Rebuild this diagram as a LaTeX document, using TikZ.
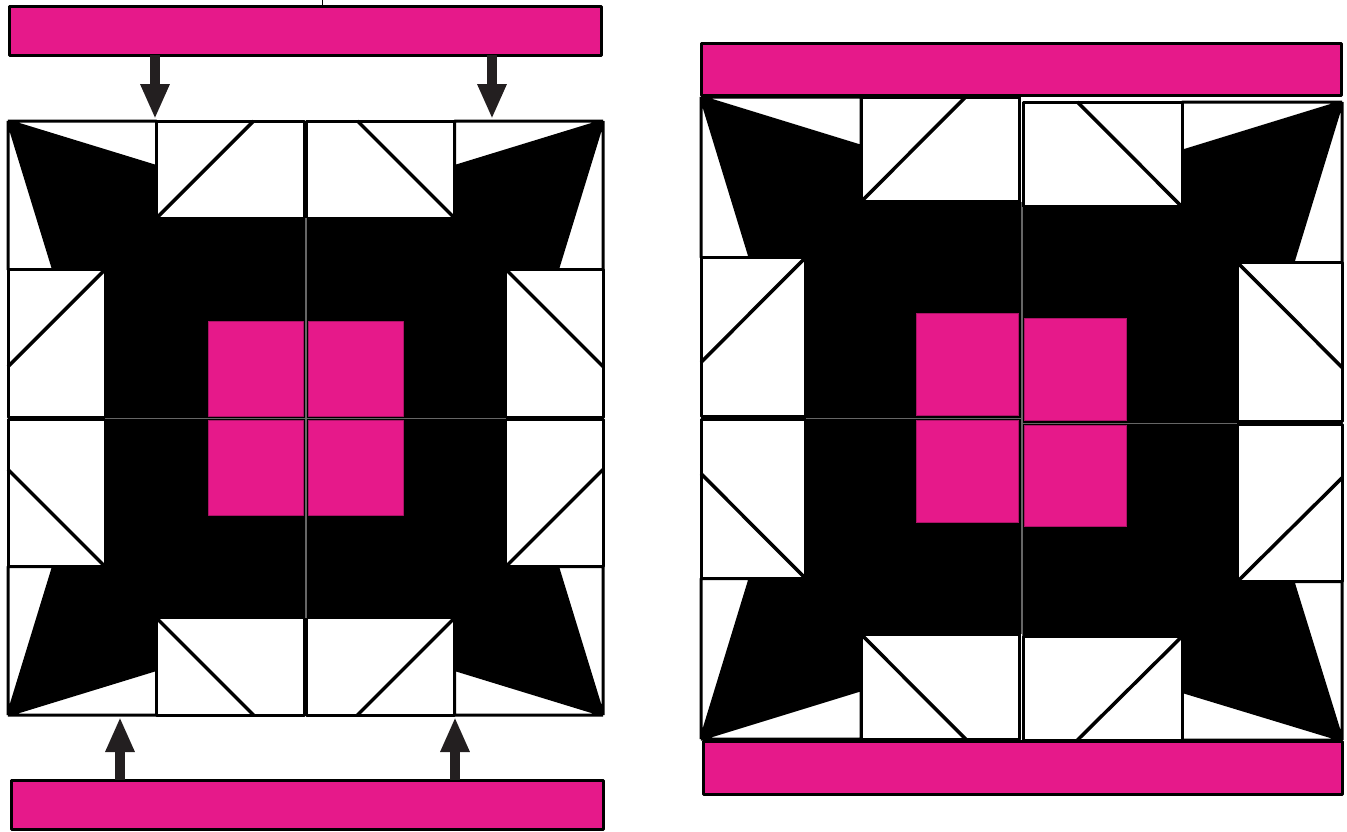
\documentclass[tikz,border=0pt]{standalone}
\usepackage{xcolor}
\usepackage{tikz}
\usetikzlibrary{arrows.meta}

\definecolor{quiltpink}{HTML}{E6198A}
\definecolor{arrowgray}{HTML}{231F20}

\begin{document}
\begin{tikzpicture}[
    x = 1pt, y = -1pt, % pixel grid, y pointing down
    > = {Triangle[length=35pt, width=27pt]}, % arrow head style
    line join = bevel, % no spikes on the thin triangles
    semithick % line style
]
\tikzstyle{strip}=[
    draw = black,
    line width = 3pt,
    fill = quiltpink,
    inner sep = 0pt,
    outer sep = 0pt
]
\tikzstyle{patch}=[draw = black, line width = 3pt, fill = white]
\tikzstyle{seam}=[draw = black!60, line width = 0.8pt]
\tikzstyle{centre}=[draw = quiltpink!75!black, line width = 0.8pt, fill = quiltpink]
\tikzstyle{pull}=[->, draw = arrowgray, fill = arrowgray, line width = 10pt]

\useasboundingbox (0,0) rectangle (1347,831);

% quarter blocks: outer corner x / y, signed width / height
\foreach \cx/\cy/\w/\h in {8/121/297/297, 603/121/-297/297, 8/715/297/-297, 603/715/-297/-297,
                           701/97/320/321, 1342/102/-320/321, 701/739/320/-321, 1342/740/-320/-317} {
  \begin{scope}[shift={(\cx,\cy)}, xscale=\w/300, yscale=\h/300]
    \fill[black] (0,0) rectangle (300,300);
    % star point in the corner
    \draw[patch] (0,0) -- (150,0) -- (150,46) -- cycle;
    \draw[patch] (0,0) -- (0,150) -- (46,150) -- cycle;
    % the two side units
    \draw[patch] (150,0) rectangle (299,98);
    \draw[line width = 3.5pt] (150,98) -- (248,0);
    \draw[patch] (0,150) rectangle (98,299);
    \draw[line width = 3.5pt] (98,150) -- (0,248);
    % centre square
    \draw[centre] (202,202) rectangle (298,298);
  \end{scope}
}
% seams between the quarters
\foreach \cx/\cy/\w/\h in {8/121/297/297, 603/121/-297/297, 8/715/297/-297, 603/715/-297/-297,
                           701/97/320/321, 1342/102/-320/321, 701/739/320/-321, 1342/740/-320/-317} {
  \begin{scope}[shift={(\cx,\cy)}, xscale=\w/300, yscale=\h/300]
    \draw[seam] (300,98) -- (300,300) -- (98,300);
  \end{scope}
}

% pink strips
\node[strip, minimum width=592pt, minimum height=49pt] (barTL) at (305,30.5) {};
\node[strip, minimum width=592pt, minimum height=49pt] (barBL) at (307,804.5) {};
\node[strip, minimum width=640pt, minimum height=52pt] (barTR) at (1021,69) {};
\node[strip, minimum width=639pt, minimum height=53pt] (barBR) at (1022.5,767.5) {};

\coordinate (pinA) at (155,119);
\coordinate (pinB) at (492,119);
\coordinate (pinC) at (120,717);
\coordinate (pinD) at (455,717);
\coordinate (tick) at (322,0);

\draw[pull] (barTL.south -| pinA) -- (pinA);
\draw[pull] (barTL.south -| pinB) -- (pinB);
\draw[pull] (barBL.north -| pinC) -- (pinC);
\draw[pull] (barBL.north -| pinD) -- (pinD);

\draw[line width = 1pt] (tick) -- (tick |- barTL.north);

\end{tikzpicture}
\end{document}
